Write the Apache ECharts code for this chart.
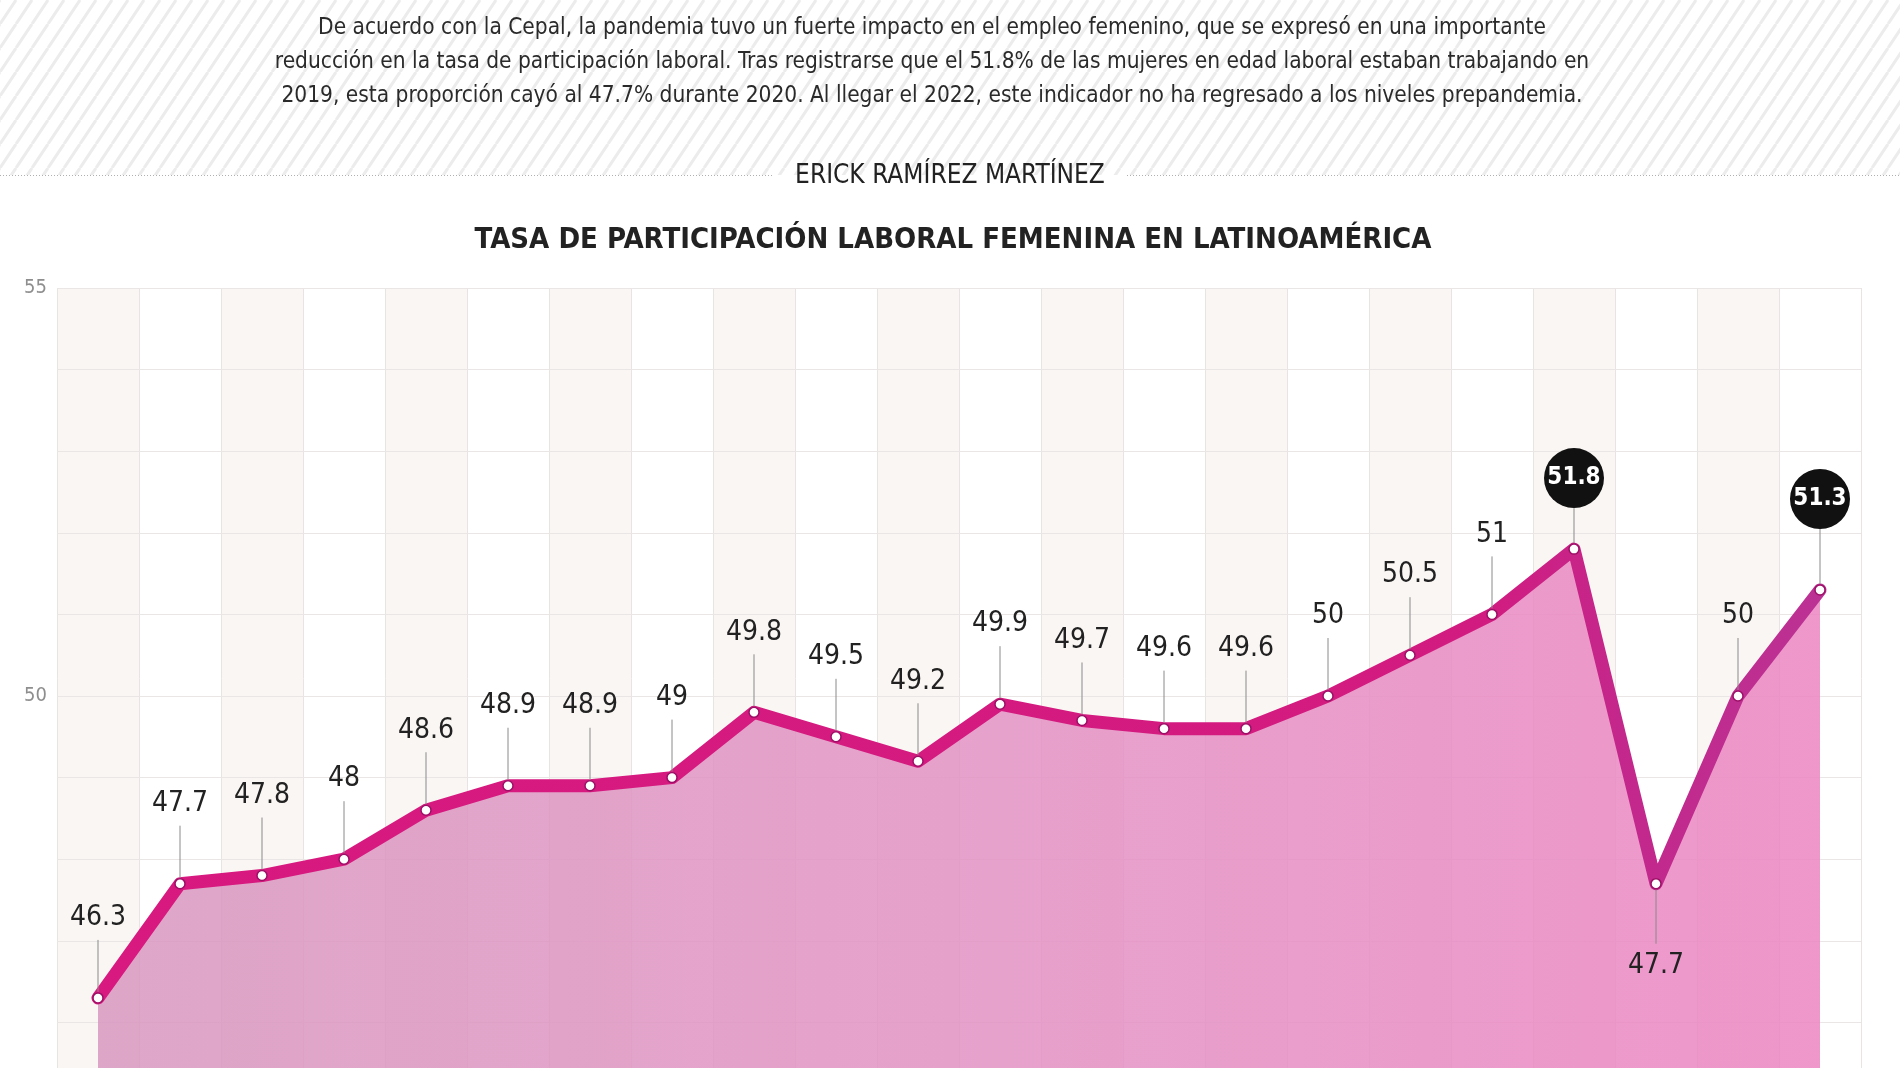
<!DOCTYPE html>
<html>
<head>
<meta charset="utf-8">
<script src="https://cdn.jsdelivr.net/npm/echarts@6/dist/echarts.min.js"></script>
<style>
html,body{margin:0;padding:0;background:#fff;}
#c{width:1900px;height:1068px;}
</style>
</head>
<body>
<div id="c"></div>
<script>
// ---- data ----
const years = ['2001','2002','2003','2004','2005','2006','2007','2008','2009','2010','2011',
               '2012','2013','2014','2015','2016','2017','2018','2019','2020','2021','2022'];
const values = [46.3,47.7,47.8,48,48.6,48.9,48.9,49,49.8,49.5,49.2,
                49.9,49.7,49.6,49.6,50,50.5,51,51.8,47.7,50,51.3];
const highlightYears = ['2019','2022'];
const belowLabelYears = ['2020'];
const yLabelTicks = [45,50,55];
const titleText = 'TASA DE PARTICIPACIÓN LABORAL FEMENINA EN LATINOAMÉRICA';
const authorText = 'ERICK RAMÍREZ MARTÍNEZ';
const introLines = [
  'De acuerdo con la Cepal, la pandemia tuvo un fuerte impacto en el empleo femenino, que se expresó en una importante',
  'reducción en la tasa de participación laboral. Tras registrarse que el 51.8% de las mujeres en edad laboral estaban trabajando en',
  '2019, esta proporción cayó al 47.7% durante 2020. Al llegar el 2022, este indicador no ha regresado a los niveles prepandemia.'
];

// ---- styling ----
const NARROW = '"Liberation Sans Narrow","DejaVu Sans Condensed","Liberation Sans",sans-serif';
const badgeOffset = {'2019': 71, '2022': 91};

// striped header pattern
const tile = document.createElement('canvas');
tile.width = 16; tile.height = 24;
const tctx = tile.getContext('2d');
tctx.fillStyle = '#ffffff'; tctx.fillRect(0,0,16,24);
tctx.strokeStyle = '#ececec'; tctx.lineWidth = 3;
for (let k = -1; k <= 1; k++) {
  tctx.beginPath(); tctx.moveTo(k*16, 24); tctx.lineTo(k*16+16, 0); tctx.stroke();
}

const chart = echarts.init(document.getElementById('c'), null, {renderer:'canvas'});

const graphics = [
  {type:'rect', silent:true, z:-10, shape:{x:0,y:0,width:1900,height:175},
   style:{fill:{image:tile, repeat:'repeat'}}},
  {type:'line', silent:true, shape:{x1:0,y1:175.5,x2:772,y2:175.5},
   style:{stroke:'#b0b0b0', lineWidth:1, lineDash:[1,2]}},
  {type:'line', silent:true, shape:{x1:1127,y1:175.5,x2:1900,y2:175.5},
   style:{stroke:'#b0b0b0', lineWidth:1, lineDash:[1,2]}},
  {type:'text', silent:true, x:950, y:176,
   style:{text:authorText, align:'center', verticalAlign:'middle', font:'26px '+NARROW, fill:'#222'}},
  {type:'text', silent:true, x:953, y:240,
   style:{text:titleText, align:'center', verticalAlign:'middle', font:'bold 29px '+NARROW, fill:'#222'}}
];
introLines.forEach((t,i)=>{
  graphics.push({type:'text', silent:true, x:932, y:28+34*i,
    style:{text:t, align:'center', verticalAlign:'middle', font:'22.5px '+NARROW, fill:'#2a2a2a'}});
});

const option = {
  animation:false,
  backgroundColor:'#ffffff',
  graphic: graphics,
  grid:{left:57, right:39, top:288, bottom:-36, containLabel:false, outerBoundsMode:'none'},
  xAxis:{
    type:'category', data:years, boundaryGap:true, z:0,
    axisLine:{show:false}, axisTick:{show:false, interval:0}, axisLabel:{show:false, interval:0},
    splitLine:{show:true, interval:0, lineStyle:{color:'#e9e3e3', width:1}},
    splitArea:{show:true, interval:0, areaStyle:{color:['#faf6f3','#ffffff']}}
  },
  yAxis:{
    type:'value', min:45, max:55, interval:1, z:1,
    axisLine:{show:false}, axisTick:{show:false},
    axisLabel:{margin:10, color:'#8e8e8e', fontSize:20, fontFamily:NARROW,
      formatter:v => yLabelTicks.includes(v) ? String(v) : ''},
    splitLine:{show:true, lineStyle:{color:'#ebe6e6', width:1}}
  },
  series:[
    {
      type:'line', data:values, z:2,
      symbol:'circle', symbolSize:10,
      itemStyle:{color:'#ffffff', borderColor:'#9c0f66', borderWidth:1.5},
      lineStyle:{width:13, join:'round', cap:'round',
        color:new echarts.graphic.LinearGradient(0,0,1,0,[
          {offset:0,color:'#d8197f'},{offset:0.8,color:'#d21b80'},
          {offset:0.88,color:'#c4278b'},{offset:1,color:'#bb3294'}])},
      areaStyle:{opacity:0.85,
        color:new echarts.graphic.LinearGradient(0,0,1,0,[
          {offset:0,color:'#d897bf'},{offset:0.5,color:'#e292c3'},{offset:1,color:'#ec85c2'}])},
      emphasis:{disabled:true}
    },
    {
      type:'custom', z:5, silent:true,
      data: values.map((v,i)=>[i,v]),
      renderItem:(params, api)=>{
        const i = api.value(0), v = api.value(1);
        const yr = years[i];
        const p = api.coord([i, v]);
        if (highlightYears.includes(yr)) {
          const off = badgeOffset[yr] || 80;
          return {type:'group', children:[
            {type:'line', shape:{x1:p[0],y1:p[1]-6,x2:p[0],y2:p[1]-off+30}, style:{stroke:'#8a8a8a', lineWidth:1}},
            {type:'circle', shape:{cx:p[0], cy:p[1]-off, r:30}, style:{fill:'#111111'}},
            {type:'text', style:{text:String(v), x:p[0], y:p[1]-off, align:'center', verticalAlign:'middle',
              font:'bold 24px '+NARROW, fill:'#ffffff'}}
          ]};
        }
        if (belowLabelYears.includes(yr)) {
          return {type:'group', children:[
            {type:'line', shape:{x1:p[0],y1:p[1]+6,x2:p[0],y2:p[1]+60}, style:{stroke:'#8a8a8a', lineWidth:1}},
            {type:'text', style:{text:String(v), x:p[0], y:p[1]+82, align:'center', verticalAlign:'middle',
              font:'28px '+NARROW, fill:'#222'}}
          ]};
        }
        return {type:'group', children:[
          {type:'line', shape:{x1:p[0],y1:p[1]-6,x2:p[0],y2:p[1]-58}, style:{stroke:'#8a8a8a', lineWidth:1}},
          {type:'text', style:{text:String(v), x:p[0], y:p[1]-80, align:'center', verticalAlign:'middle',
            font:'28px '+NARROW, fill:'#222'}}
        ]};
      }
    }
  ]
};
chart.setOption(option);
</script>
</body>
</html>
